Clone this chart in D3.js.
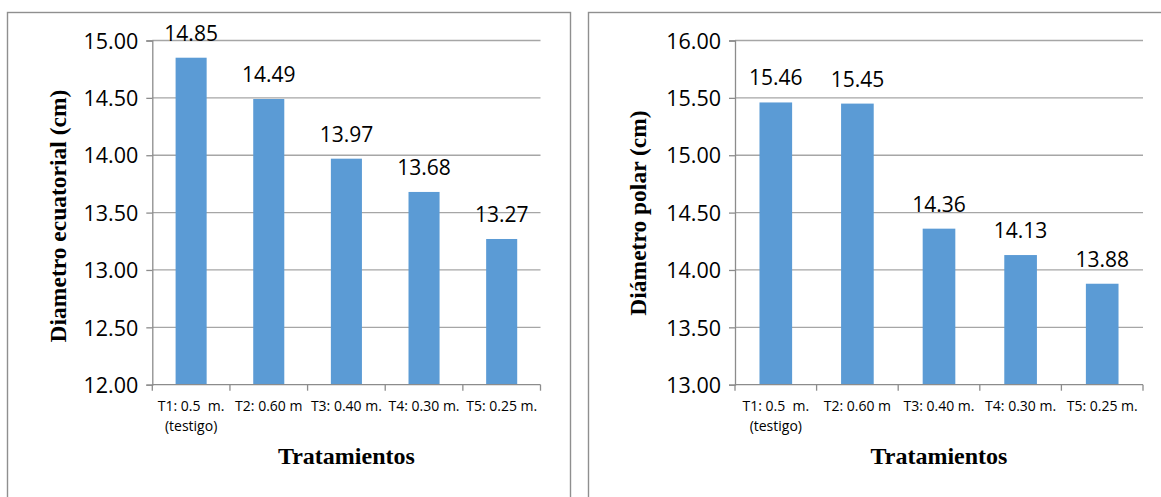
<!DOCTYPE html>
<html>
<head>
<meta charset="utf-8">
<script src="https://cdn.jsdelivr.net/npm/d3@7"></script>
<style>
  html, body { margin: 0; padding: 0; background: #fff; }
  svg { display: block; }
  text { white-space: pre; }
</style>
</head>
<body>
<div id="chart"></div>
<script>
// Treatments (planting distance) shared by both panels
const categories = ["T1: 0.5  m.", "T2: 0.60 m", "T3: 0.40 m.", "T4: 0.30 m.", "T5: 0.25 m."];
const categorySubLabels = ["(testigo)", "", "", "", ""];

// Mean fruit diameters (cm)
const ecuatorialValues = [14.85, 14.49, 13.97, 13.68, 13.27];
const polarValues = [15.46, 15.45, 14.36, 14.13, 13.88];

// Value axis ticks for each panel
const ecuatorialTicks = [12.00, 12.50, 13.00, 13.50, 14.00, 14.50, 15.00];
const polarTicks = [13.00, 13.50, 14.00, 14.50, 15.00, 15.50, 16.00];

const xTitle = "Tratamientos";
const ecuatorialTitle = "Diametro ecuatorial (cm)";
const polarTitle = "Diámetro polar (cm)";

const W = 1161, H = 497;
const BAR = "#5b9bd5";
const GRID = "#a6a6a6";
const AXIS = "#8c8c8c";
const FRAME = "#8f8f8f";
const SANS = "'Open Sans', Lato, sans-serif";
const SERIF = "'Liberation Serif', 'Times New Roman', serif";

const svg = d3.select("#chart").append("svg")
  .attr("width", W).attr("height", H);

function panel(cfg) {
  const g = svg.append("g");

  // chart frame
  g.append("rect")
    .attr("x", cfg.frame[0]).attr("y", cfg.frame[1])
    .attr("width", cfg.frame[2]).attr("height", cfg.frame[3])
    .attr("fill", "none").attr("stroke", FRAME).attr("stroke-width", 1.4);

  const x = d3.scaleBand().domain(cfg.categories)
    .range([cfg.left, cfg.right]).paddingInner(0.6).paddingOuter(0.3);
  const y = d3.scaleLinear().domain(d3.extent(cfg.ticks))
    .range([cfg.bottom, cfg.top]);

  // horizontal gridlines
  g.append("g").selectAll("line")
    .data(cfg.ticks.slice(1))
    .join("line")
    .attr("x1", cfg.left).attr("x2", cfg.right)
    .attr("y1", d => y(d)).attr("y2", d => y(d))
    .attr("stroke", GRID).attr("stroke-width", 1.3);

  // value axis
  const yAxis = g.append("g")
    .attr("transform", `translate(${cfg.left},0)`)
    .call(d3.axisLeft(y).tickValues(cfg.ticks).tickFormat(d3.format(".2f"))
      .tickSize(6).tickPadding(8));
  yAxis.select(".domain").attr("stroke", AXIS).attr("stroke-width", 1.3);
  yAxis.selectAll(".tick line").attr("stroke", AXIS).attr("stroke-width", 1.3);
  yAxis.selectAll(".tick text")
    .attr("font-family", SANS).attr("font-size", 21.5).attr("fill", "#000")
    .attr("dy", "0.36em");

  // bars
  g.append("g").selectAll("rect")
    .data(cfg.values)
    .join("rect")
    .attr("x", (d, i) => x(cfg.categories[i]))
    .attr("width", x.bandwidth())
    .attr("y", d => y(d))
    .attr("height", d => y(cfg.ticks[0]) - y(d))
    .attr("fill", BAR);

  // value labels
  g.append("g").selectAll("text")
    .data(cfg.values)
    .join("text")
    .attr("x", (d, i) => x(cfg.categories[i]) + x.bandwidth() / 2)
    .attr("y", d => y(d) - 17)
    .attr("text-anchor", "middle")
    .attr("font-family", SANS).attr("font-size", 21).attr("fill", "#000")
    .text(d => d3.format(".2f")(d));

  // category axis line with tick marks at band boundaries
  const base = y(cfg.ticks[0]);
  g.append("line")
    .attr("x1", cfg.left).attr("x2", cfg.right)
    .attr("y1", base).attr("y2", base)
    .attr("stroke", AXIS).attr("stroke-width", 1.3);
  g.append("g").selectAll("line")
    .data(d3.range(cfg.categories.length + 1))
    .join("line")
    .attr("x1", i => cfg.left + i * x.step())
    .attr("x2", i => cfg.left + i * x.step())
    .attr("y1", base).attr("y2", base + 6)
    .attr("stroke", AXIS).attr("stroke-width", 1.3);

  // category labels
  const cat = g.append("g").selectAll("g")
    .data(cfg.categories)
    .join("g")
    .attr("transform", d => `translate(${x(d) + x.bandwidth() / 2},0)`);
  cat.append("text")
    .attr("y", base + 26)
    .attr("text-anchor", "middle")
    .attr("font-family", SANS).attr("font-size", 14).attr("fill", "#000")
    .text(d => d);
  cat.append("text")
    .attr("y", base + 46)
    .attr("text-anchor", "middle")
    .attr("font-family", SANS).attr("font-size", 14).attr("fill", "#000")
    .text((d, i) => categorySubLabels[i]);

  // axis titles
  g.append("text")
    .attr("x", (cfg.left + cfg.right) / 2)
    .attr("y", base + 79)
    .attr("text-anchor", "middle")
    .attr("font-family", SERIF).attr("font-weight", "bold")
    .attr("font-size", 24).attr("fill", "#000")
    .text(xTitle);
  g.append("text")
    .attr("transform", `translate(${cfg.titleX},${cfg.titleY}) rotate(-90)`)
    .attr("text-anchor", "middle")
    .attr("font-family", SERIF).attr("font-weight", "bold")
    .attr("font-size", 23.5).attr("fill", "#000")
    .text(cfg.title);
}

panel({
  frame: [7.5, 12.5, 563, 520],
  left: 152.3, right: 540.5, top: 40.5, bottom: 384.7,
  titleX: 66, titleY: 216,
  categories, values: ecuatorialValues, ticks: ecuatorialTicks,
  title: ecuatorialTitle
});

panel({
  frame: [588.5, 12.5, 600, 520],
  left: 735, right: 1143, top: 40.5, bottom: 384.7,
  titleX: 646, titleY: 213,
  categories, values: polarValues, ticks: polarTicks,
  title: polarTitle
});
</script>
</body>
</html>
